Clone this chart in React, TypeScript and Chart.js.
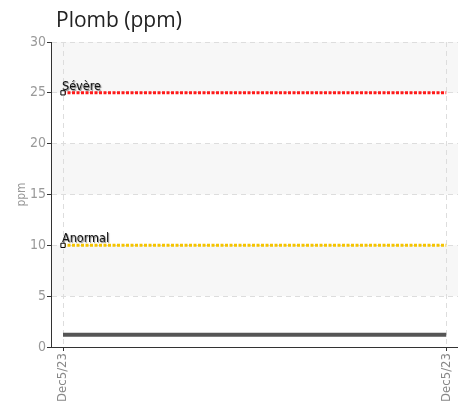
import React, { useEffect, useRef } from "react";
import { Chart, registerables } from "chart.js";

Chart.register(...registerables);

const title = "Plomb (ppm)";
const yTitle = "ppm";
const dateLabels = ["Dec5/23", "Dec5/23"];
const leadValues = [1.2, 1.2];
const severeValues = [25, 25];
const abnormalValues = [10, 10];
const severeLabel = "Sévère";
const abnormalLabel = "Anormal";
const yTicks = [0, 5, 10, 15, 20, 25, 30];

const condensed = "'DejaVu Sans Condensed', 'Liberation Sans Narrow', sans-serif";

const bandsBehind = {
  id: "bandsBehind",
  beforeDraw(chart: any) {
    const { ctx, chartArea, scales } = chart;
    const y = scales.y;
    ctx.save();
    for (let i = 0; i < yTicks.length - 1; i++) {
      if (i % 2 === 1) {
        const top = y.getPixelForValue(yTicks[i + 1]);
        const bot = y.getPixelForValue(yTicks[i]);
        ctx.fillStyle = "#f7f7f7";
        ctx.fillRect(chartArea.left, top, chartArea.right - chartArea.left, bot - top);
      }
    }
    ctx.restore();
  },
};

const textPlugin = {
  id: "texts",
  afterDraw(chart: any) {
    const { ctx, scales } = chart;
    ctx.save();
    ctx.font = "21px 'Open Sans', sans-serif";
    ctx.fillStyle = "#222";
    ctx.textBaseline = "alphabetic";
    ctx.textAlign = "left";
    ctx.fillText(title, 56, 27);

    ctx.font = "12.5px " + condensed;
    ctx.fillStyle = "#111";
    ctx.shadowColor = "rgba(0,0,0,0.5)";
    ctx.shadowOffsetX = 1;
    ctx.shadowOffsetY = 1;
    ctx.shadowBlur = 1;
    const x0 = scales.x.getPixelForValue(0);
    ctx.fillText(severeLabel, x0 - 1, scales.y.getPixelForValue(severeValues[0]) - 3);
    ctx.fillText(abnormalLabel, x0 - 1, scales.y.getPixelForValue(abnormalValues[0]) - 3);
    ctx.restore();
  },
};

export default function App() {
  const ref = useRef<HTMLCanvasElement | null>(null);
  useEffect(() => {
    document.body.style.margin = "0";
    const pad = 12 / 383;
    const mk = (vals: number[]) => vals.map((v, i) => ({ x: i, y: v }));
    const chart = new Chart(ref.current as HTMLCanvasElement, {
      type: "line",
      data: {
        datasets: [
          {
            data: mk(leadValues),
            borderColor: "#555555",
            borderWidth: 4,
            pointRadius: 0,
          },
          {
            data: mk(severeValues),
            borderColor: "#ff1a1a",
            borderWidth: 3,
            borderDash: [3, 1.5],
            pointStyle: "rect",
            pointRadius: [3, 0],
            pointBackgroundColor: "#ffffff",
            pointBorderColor: "#000000",
            pointBorderWidth: 1,
          },
          {
            data: mk(abnormalValues),
            borderColor: "#f5c400",
            borderWidth: 3,
            borderDash: [3, 1.5],
            pointStyle: "rect",
            pointRadius: [3, 0],
            pointBackgroundColor: "#ffffff",
            pointBorderColor: "#000000",
            pointBorderWidth: 1,
          },
        ],
      },
      options: {
        animation: false,
        responsive: false,
        devicePixelRatio: 1,
        layout: { padding: { top: 42, right: 0, left: 0, bottom: 0 } },
        plugins: { legend: { display: false }, tooltip: { enabled: false } },
        scales: {
          x: {
            type: "linear",
            min: -pad,
            max: 1 + pad,
            afterBuildTicks: (s: any) => {
              s.ticks = dateLabels.map((_, i) => ({ value: i }));
            },
            afterFit: (s: any) => {
              s.height = 55;
            },
            ticks: {
              minRotation: 90,
              maxRotation: 90,
              color: "#888",
              font: { size: 13, family: condensed },
              padding: 2,
              callback: (_v: any, i: number) => dateLabels[i],
            },
            grid: {
              color: "#dddddd",
              tickColor: "#333",
              tickLength: 4,
              drawTicks: true,
            },
            border: { display: true, color: "#333", width: 1, dash: [5, 4] },
          },
          y: {
            min: 0,
            max: 30,
            afterBuildTicks: (s: any) => {
              s.ticks = yTicks.map((v) => ({ value: v }));
            },
            afterFit: (s: any) => {
              s.width = 51;
            },
            ticks: {
              color: "#999",
              font: { size: 14, family: condensed },
              padding: 1,
            },
            grid: {
              color: (c: any) => (c.tick && c.tick.value === 0 ? "rgba(0,0,0,0)" : "#dddddd"),
              tickColor: "#333",
              tickLength: 4,
            },
            border: { display: true, color: "#333", width: 1, dash: [5, 4] },
            title: {
              display: true,
              text: yTitle,
              color: "#999",
              font: { size: 12, family: condensed },
              padding: { top: 15, bottom: 0 },
            },
          },
        },
      },
      plugins: [bandsBehind, textPlugin],
    } as any);
    return () => chart.destroy();
  }, []);
  return (
    <div style={{ width: 458, height: 402, overflow: "hidden" }}>
      <canvas ref={ref} width={464} height={402} style={{ display: "block" }} />
    </div>
  );
}
